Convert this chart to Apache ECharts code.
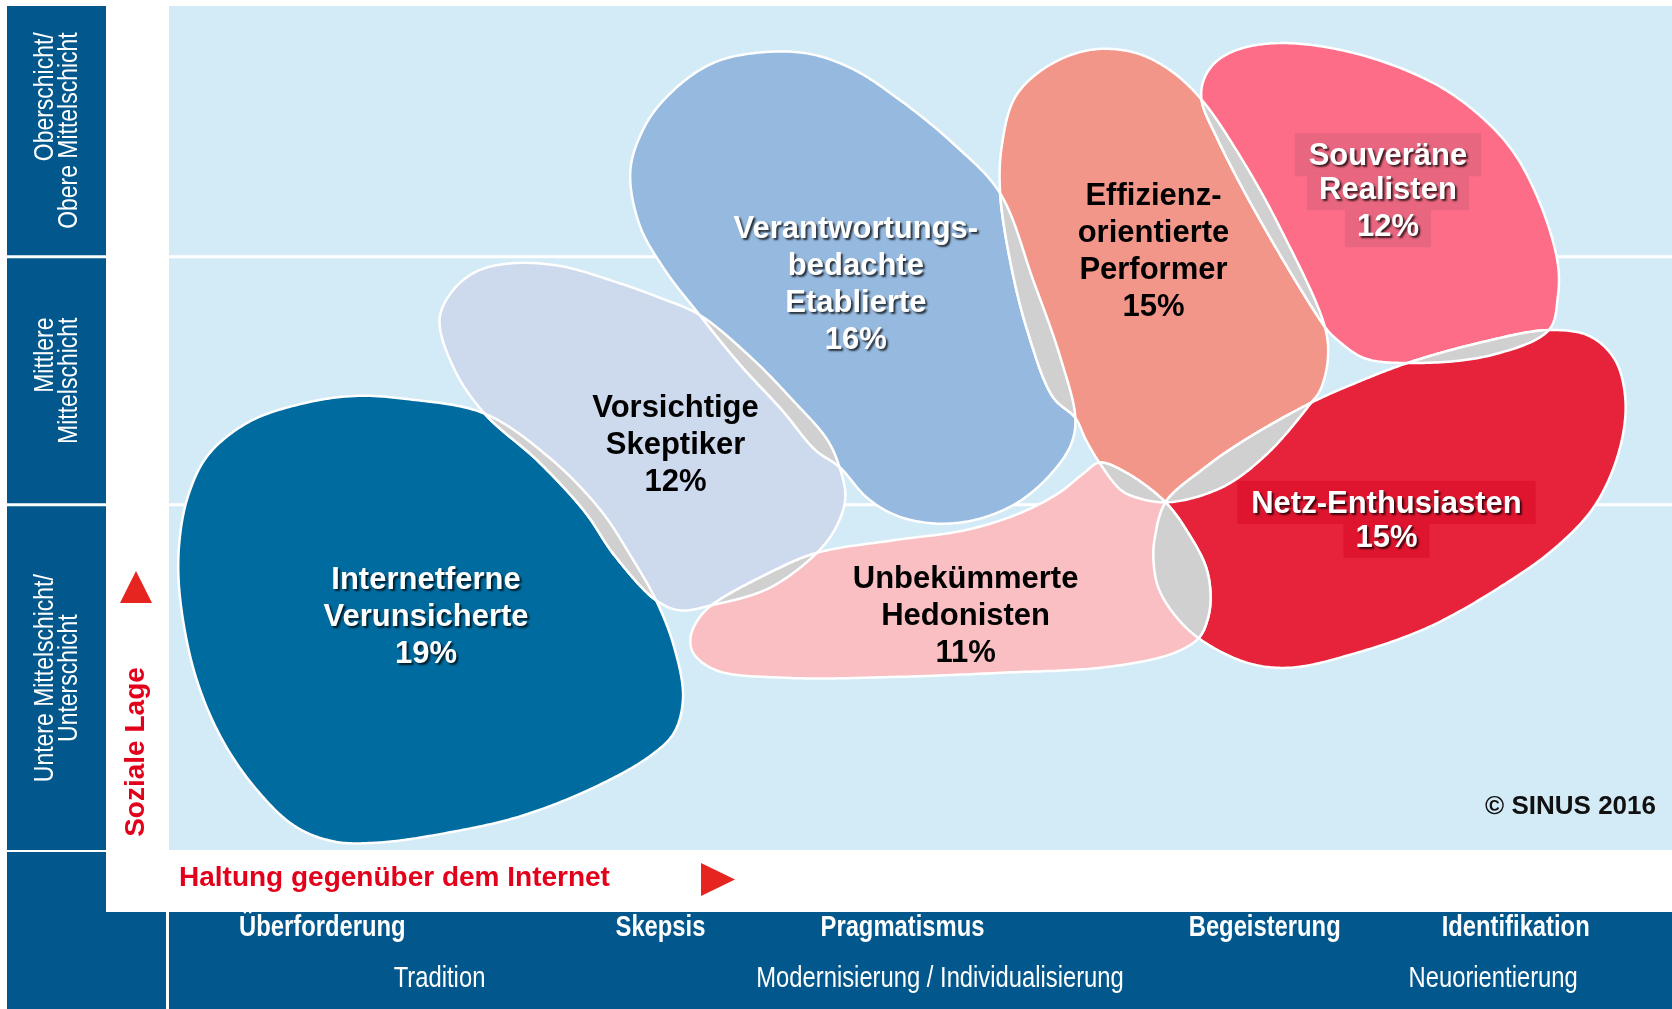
<!DOCTYPE html>
<html><head><meta charset="utf-8">
<script src="https://cdn.jsdelivr.net/npm/echarts@6/dist/echarts.min.js"></script>
<style>html,body{margin:0;padding:0;background:#fff}#c{width:1672px;height:1009px}</style>
</head><body><div id="c"></div><script>
// ---------------- DATA ----------------
// x: Haltung gegenüber dem Internet (0..100), y: Soziale Lage (0..100)
const milieuLines = [
  ['Internetferne','Verunsicherte','19%'],
  ['Vorsichtige','Skeptiker','12%'],
  ['Verantwortungs-','bedachte','Etablierte','16%'],
  ['Effizienz-','orientierte','Performer','15%'],
  ['Souveräne','Realisten','12%'],
  ['Netz-Enthusiasten','15%'],
  ['Unbekümmerte','Hedonisten','11%']
];
const milieuShares = [19, 12, 16, 15, 12, 15, 11];
const labelPositions = [[17.1,27.5],[33.7,47.9],[45.7,66.9],[65.5,70.9],[81.1,78.0],[81.0,39.0],[53.0,27.7]];

const outlineVerunsicherte = [[0.7,30.5],[0.7,36.7],[1.3,42.1],[2.6,46.8],[5.3,50.7],[8.9,52.9],[12.4,53.8],[16.0,53.4],[21.0,51.7],[25.3,46.5],[28.7,40.3],[30.7,34.9],[32.4,29.6],[33.6,24.1],[34.2,18.1],[33.6,13.9],[31.9,11.0],[27.9,7.1],[23.2,3.9],[18.4,2.0],[14.1,0.9],[11.0,1.0],[8.4,2.8],[5.9,7.0],[3.5,13.2],[1.7,21.0]];
const outlineSkeptiker = [[18.0,62.8],[18.8,66.1],[20.4,68.5],[22.7,69.5],[26.0,69.2],[29.9,67.2],[32.7,65.4],[35.3,63.4],[38.7,58.4],[41.5,53.3],[43.8,48.6],[44.6,45.4],[45.0,41.8],[44.4,38.3],[43.1,35.2],[39.9,31.0],[36.1,29.0],[34.0,28.4],[32.4,29.6],[29.6,35.0],[27.7,40.0],[24.6,46.0],[21.0,51.7],[19.0,56.9]];
const outlineEtablierte = [[30.7,80.6],[31.7,85.9],[33.1,89.2],[35.3,92.4],[37.5,94.0],[42.0,94.5],[45.3,92.7],[48.6,88.9],[52.3,83.5],[55.3,77.8],[57.5,67.5],[59.3,58.4],[60.3,51.2],[60.0,48.0],[58.6,44.4],[56.4,41.1],[53.6,39.1],[50.8,38.7],[48.3,39.7],[46.4,41.8],[44.6,45.4],[43.0,47.4],[40.8,52.1],[38.0,57.5],[35.3,63.4],[33.0,68.7],[31.3,74.1]];
const outlinePerformer = [[55.3,77.8],[55.4,83.3],[56.3,89.2],[58.4,92.8],[61.3,94.8],[64.2,94.5],[66.6,92.4],[68.7,88.9],[71.3,82.1],[73.9,73.8],[76.9,62.0],[77.1,58.1],[76.6,54.5],[76.0,53.0],[73.1,47.0],[70.1,43.0],[66.5,41.2],[64.3,41.8],[63.3,42.7],[61.9,45.9],[61.0,48.6],[60.3,51.2],[58.8,53.7],[57.1,61.6],[56.0,69.5]];
const outlineRealisten = [[68.7,88.9],[68.9,91.5],[69.8,93.6],[71.6,95.1],[74.5,95.6],[78.9,94.4],[83.3,91.6],[86.2,88.5],[89.2,83.3],[91.2,76.7],[92.4,69.5],[92.4,65.5],[91.8,61.6],[87.9,58.6],[82.4,57.7],[79.5,58.3],[77.5,60.8],[76.9,62.0],[72.7,74.3],[69.8,84.1]];
const outlineNetz = [[66.3,41.2],[68.7,45.0],[71.6,48.6],[76.0,53.0],[78.9,55.3],[82.4,57.7],[87.2,60.1],[91.8,61.6],[94.5,60.9],[96.2,58.1],[96.9,53.3],[96.5,47.4],[94.9,40.9],[92.3,35.9],[88.6,31.2],[83.8,26.4],[78.9,23.3],[74.6,21.6],[71.7,22.2],[68.5,25.1],[66.8,28.1],[65.8,31.2],[65.5,34.4],[65.6,37.1]];
const outlineHedonisten = [[34.7,25.2],[35.2,27.3],[36.1,29.0],[39.9,32.8],[43.1,35.2],[48.2,36.7],[53.0,37.9],[56.6,39.9],[59.2,42.3],[60.9,44.7],[61.9,45.9],[63.7,44.7],[66.3,41.2],[67.8,37.6],[69.0,33.5],[69.3,30.0],[69.1,27.3],[68.5,25.1],[66.8,23.3],[62.5,21.7],[55.4,21.0],[48.2,20.5],[41.1,20.4],[36.4,21.3],[34.9,23.3]];
const milieuOutlines = [outlineVerunsicherte, outlineSkeptiker, outlineEtablierte, outlinePerformer, outlineRealisten, outlineNetz, outlineHedonisten];
const overlapPairs = [[0,1],[1,2],[1,6],[2,3],[3,4],[3,5],[3,6],[4,5],[5,6]];

const strataRanges = [[0,40.9],[40.9,70.3],[70.3,100]];
const strataLabels = [['Untere Mittelschicht/','Unterschicht'],['Mittlere','Mittelschicht'],['Oberschicht/','Obere Mittelschicht']];
const strataLineAlign = ['c','r','r'];

const attitudeLabels = ['Überforderung','Skepsis','Pragmatismus','Begeisterung','Identifikation'];
const attitudePositions = [10.2, 32.7, 48.8, 72.9, 89.6];
const valueLabels = ['Tradition','Modernisierung / Individualisierung','Neuorientierung'];
const valuePositions = [18.0, 51.3, 88.1];

// ---------------- STYLE ----------------
const milieuColors = ['#006b9f','#cdd9ec','#95b9df','#f3968a','#fe6d87','#e6233a','#f9bfc3'];
const milieuTextWhite = [true,false,true,false,true,true,false];
const milieuBoxColors = [null,null,null,null,'#e8667f','#df152f',null];
const DARK = '#02588c', BG = '#d3eaf7', LENS = '#d0d0d0', RED = '#e2001a';
const FONT = "'Liberation Sans', Arial, sans-serif";
const NARROW_SCALE = 0.82;

// ---------------- GEOMETRY HELPERS ----------------
function crPoint(p0,p1,p2,p3,t){
  const d=(p,q)=>Math.max(Math.pow(Math.hypot(q[0]-p[0],q[1]-p[1]),0.5),1e-4);
  const t0=0,t1=t0+d(p0,p1),t2=t1+d(p1,p2),t3=t2+d(p2,p3);
  const tt=t1+(t2-t1)*t;
  const L=(p,q,a,b)=>{const w=(tt-a)/(b-a);return [p[0]+(q[0]-p[0])*w,p[1]+(q[1]-p[1])*w];};
  const A1=L(p0,p1,t0,t1),A2=L(p1,p2,t1,t2),A3=L(p2,p3,t2,t3);
  const B1=L(A1,A2,t0,t2),B2=L(A2,A3,t1,t3);
  return L(B1,B2,t1,t2);
}
function sampleSpline(pts,steps){
  const n=pts.length,out=[];
  for(let i=0;i<n;i++){
    const p0=pts[(i-1+n)%n],p1=pts[i],p2=pts[(i+1)%n],p3=pts[(i+2)%n];
    for(let s=0;s<steps;s++) out.push(crPoint(p0,p1,p2,p3,s/steps));
  }
  return out;
}
function polyArea(p){let s=0;for(let i=0;i<p.length;i++){const a=p[i],b=p[(i+1)%p.length];s+=a[0]*b[1]-b[0]*a[1];}return s/2;}
function inPoly(pt,poly){let c=false;for(let i=0,j=poly.length-1;i<poly.length;j=i++){const a=poly[i],b=poly[j];if(((a[1]>pt[1])!==(b[1]>pt[1]))&&(pt[0]<(b[0]-a[0])*(pt[1]-a[1])/(b[1]-a[1])+a[0]))c=!c;}return c;}
function insideRun(A,B){
  const n=A.length,f=A.map(p=>inPoly(p,B));let s=-1;
  for(let i=0;i<n;i++){if(f[i]&&!f[(i-1+n)%n]){s=i;break;}}
  if(s<0)return [];
  const out=[];for(let k=0;k<n;k++){const i=(s+k)%n;if(!f[i])break;out.push(A[i]);}
  return out;
}
function intersectPolys(A,B){
  if(polyArea(A)<0)A=A.slice().reverse();
  if(polyArea(B)<0)B=B.slice().reverse();
  const ra=insideRun(A,B),rb=insideRun(B,A);
  if(!ra.length||!rb.length)return null;
  return ra.concat(rb);
}
function blobPixels(api,idx){return sampleSpline(milieuOutlines[idx].map(p=>api.coord(p)),24);}

// ---------------- CHART ----------------
const chart = echarts.init(document.getElementById('c'));
const stratTok = {fontFamily:FONT,fontSize:28,lineHeight:24,fill:'#fff'};
const option = {
  animation:false,
  grid:{left:169,right:0,top:6,bottom:159,show:true,backgroundColor:BG,borderWidth:0},
  xAxis:{type:'value',min:0,max:100,show:false},
  yAxis:{type:'value',min:0,max:100,show:false},
  graphic:[
    {type:'rect',shape:{x:7,y:852,width:99,height:157},style:{fill:DARK},z:0},
    {type:'rect',shape:{x:7,y:912,width:159,height:97},style:{fill:DARK},z:0},
    {type:'rect',shape:{x:169,y:912,width:1503,height:97},style:{fill:DARK},z:0},
    {type:'polygon',shape:{points:[[120,603],[136,571],[152,603]]},style:{fill:'#e62521'}},
    {type:'polygon',shape:{points:[[701,863],[735,879.5],[701,896]]},style:{fill:'#e62521'}},
    {type:'text',x:136,y:752,rotation:Math.PI/2,style:{text:'Soziale Lage',fill:RED,fontFamily:FONT,fontWeight:'bold',fontSize:28,align:'center',verticalAlign:'middle'}},
    {type:'text',x:179,y:878,style:{text:'Haltung gegenüber dem Internet',fill:RED,fontFamily:FONT,fontWeight:'bold',fontSize:28,align:'left',verticalAlign:'middle'}},
    {type:'text',x:1656,y:807,z:100,style:{text:'© SINUS 2016',fill:'#111',fontFamily:FONT,fontWeight:'bold',fontSize:26,align:'right',verticalAlign:'middle'}}
  ],
  series:[
    { // strata boxes, labels, separator lines
      type:'custom',z:1,clip:false,silent:true,
      data:strataRanges.map(r=>[0,r[0]]),
      renderItem:function(params,api){
        const i=params.dataIndex,r=strataRanges[i];
        const yTop=api.coord([0,r[1]])[1],yBot=api.coord([0,r[0]])[1];
        const y0=yTop+(r[1]<100?1.5:0),y1=yBot-(r[0]>0?1.5:0);
        const al=strataLineAlign[i];
        const children=[
          {type:'rect',shape:{x:7,y:y0,width:99,height:y1-y0},style:{fill:DARK}},
          {type:'text',x:57,y:(y0+y1)/2,rotation:Math.PI/2,scaleX:NARROW_SCALE,style:{
            text:strataLabels[i].map(s=>'{'+al+'|'+s+'}').join('\n'),
            fill:'#fff',fontFamily:FONT,fontSize:28,lineHeight:24,align:'center',verticalAlign:'middle',
            rich:{r:Object.assign({align:'right'},stratTok),c:Object.assign({align:'center'},stratTok)}}}
        ];
        if(r[0]>0){
          const xl=api.coord([0,0])[0],xr=api.coord([100,0])[0];
          children.push({type:'line',shape:{x1:xl,y1:yBot,x2:xr,y2:yBot},style:{stroke:'#fff',lineWidth:3}});
        }
        return {type:'group',children:children};
      }
    },
    { // attitude labels (row 1) and value orientation labels (row 2)
      type:'custom',z:1,clip:false,silent:true,
      data:attitudePositions.map((p,i)=>[p,0,0,i]).concat(valuePositions.map((p,i)=>[p,0,1,i])),
      renderItem:function(params,api){
        const row=api.value(2),k=api.value(3);
        const x=api.coord([api.value(0),0])[0],yb=api.coord([0,0])[1];
        return {type:'text',x:x,y:yb+(row===0?78:129),scaleX:NARROW_SCALE,style:{
          text:row===0?attitudeLabels[k]:valueLabels[k],fill:'#fff',fontFamily:FONT,
          fontWeight:row===0?'bold':'normal',fontSize:29,align:'center',verticalAlign:'middle'}};
      }
    },
    { // milieu blobs
      type:'custom',z:2,clip:false,silent:true,
      data:labelPositions,
      renderItem:function(params,api){
        const i=params.dataIndex;
        return {type:'polygon',shape:{points:blobPixels(api,i)},style:{fill:milieuColors[i],stroke:'#fff',lineWidth:2.5}};
      }
    },
    { // overlaps
      type:'custom',z:3,clip:false,silent:true,
      data:overlapPairs,
      renderItem:function(params,api){
        const pr=overlapPairs[params.dataIndex];
        const poly=intersectPolys(blobPixels(api,pr[0]),blobPixels(api,pr[1]));
        if(!poly)return null;
        return {type:'polygon',shape:{points:poly},style:{fill:LENS,stroke:'#fff',lineWidth:2.5}};
      }
    },
    { // labels
      type:'custom',z:4,clip:false,silent:true,
      data:labelPositions,
      renderItem:function(params,api){
        const i=params.dataIndex;
        const c=api.coord(labelPositions[i]);
        const white=milieuTextWhite[i],box=milieuBoxColors[i];
        const base={fontFamily:FONT,fontWeight:'bold',fontSize:31,lineHeight:37,
          fill:white?'#fff':'#000'};
        if(white){Object.assign(base,{textShadowColor:'rgba(0,0,0,0.75)',textShadowBlur:2,textShadowOffsetX:2,textShadowOffsetY:2});}
        const tok=Object.assign({},base,{align:'center'});
        const first=Object.assign({},tok);
        if(box){
          tok.backgroundColor=box;tok.padding=[2,12,4,12];
          first.backgroundColor=box;first.padding=[8,14,4,14];
        }
        const lines=milieuLines[i].slice(0,-1).concat([milieuShares[i]+'%']);
        return {type:'text',x:c[0],y:c[1],style:Object.assign({},base,{
          text:lines.map((s,k)=>'{'+(k===0?'f':'t')+'|'+s+'}').join('\n'),align:'center',verticalAlign:'middle',rich:{t:tok,f:first}})};
      }
    }
  ]
};
chart.setOption(option);
</script></body></html>
